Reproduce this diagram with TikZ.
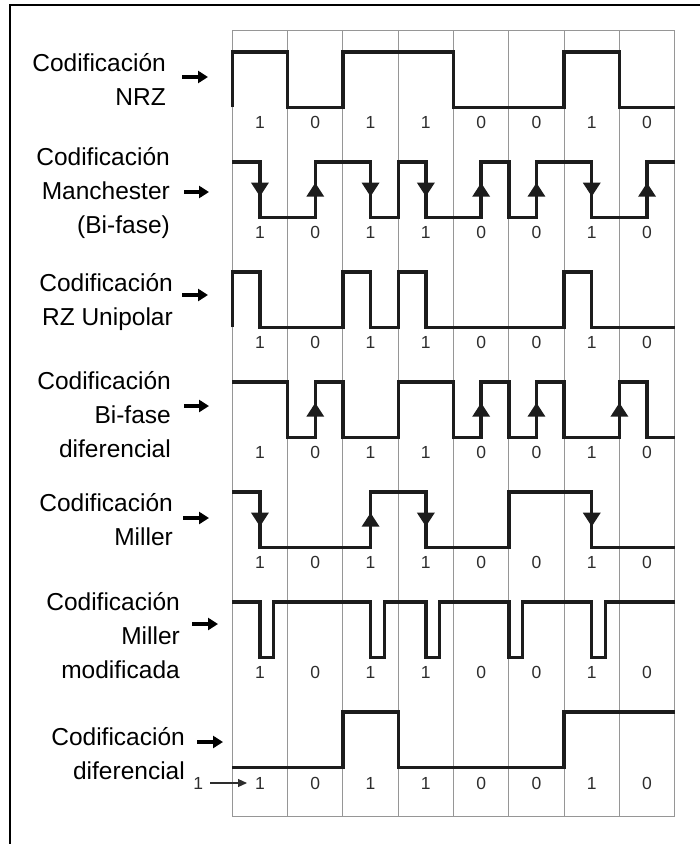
\documentclass[tikz,border=0pt]{standalone}
\usepackage{fontspec}
\setmainfont{Liberation Sans}
\usetikzlibrary{arrows.meta}
\definecolor{gridgray}{RGB}{150,150,150}
\definecolor{wavegray}{RGB}{28,28,28}
\definecolor{bitgray}{RGB}{45,45,45}

\begin{document}
\begin{tikzpicture}[x=1pt, y=-1pt,
    frame/.style={line width=2pt, black},
    cell/.style={gridgray, line width=1pt},
    wave/.style={line width=3.4pt, wavegray, line join=miter},
    fall/.style={wave, -{Triangle[width=17pt, length=14pt]}},
    rise/.style={wave, -{Triangle[width=17pt, length=14pt]}},
    bit/.style={font=\fontsize{17.5}{20}\selectfont, text=bitgray, inner sep=0pt},
    tag/.style={anchor=east, align=right, inner sep=0pt, font=\fontsize{24.5}{34}\selectfont},
    pointer/.style={-{Triangle[width=12pt, length=10pt]}, line width=4pt},
    thinptr/.style={-{Triangle[width=8pt, length=9pt]}, line width=1.2pt, bitgray}
]
  \useasboundingbox (0,0) rectangle (700,844);
  \draw[frame] (9.5,844) -- (9.5,5) -- (700,5);

  % bit cells
  \begin{scope}[shift={(232.3,0)}, x=55.3pt]
    \draw[cell] (0,30.7) rectangle (8,816.3);
    \foreach \i in {1,...,7}
      \draw[cell] (\i,30.7) -- (\i,816.3);
  \end{scope}

  % waveforms, one row every 110px
  \def\lo{55.3}
  \begin{scope}[shift={(232.3,52)}, x=55.3pt]
    % NRZ
    \draw[wave] (0,\lo) -- (0,0) -- (1,0) -- (1,\lo) -- (2,\lo) -- (2,0) -- (4,0) -- (4,\lo)
      -- (6,\lo) -- (6,0) -- (7,0) -- (7,\lo) -- (8,\lo);
    \foreach \b [count=\i from 0] in {1,0,1,1,0,0,1,0}
      \node[bit] (nrz-\i) at (\i+0.5,70.8) {\b};

    % Manchester
    \begin{scope}[yshift=-110pt]
      \draw[wave] (0,0) -- (0.5,0) -- (0.5,\lo) -- (1.5,\lo) -- (1.5,0) -- (2.5,0) -- (2.5,\lo)
        -- (3,\lo) -- (3,0) -- (3.5,0) -- (3.5,\lo) -- (4.5,\lo) -- (4.5,0) -- (5,0) -- (5,\lo)
        -- (5.5,\lo) -- (5.5,0) -- (6.5,0) -- (6.5,\lo) -- (7.5,\lo) -- (7.5,0) -- (8,0);
      \foreach \p in {0.5,2.5,3.5,6.5}
        \draw[fall] (\p,0) -- (\p,34.6);
      \foreach \p in {1.5,4.5,5.5,7.5}
        \draw[rise] (\p,\lo) -- (\p,20.7);
      \foreach \b [count=\i from 0] in {1,0,1,1,0,0,1,0}
        \node[bit] (man-\i) at (\i+0.5,70.8) {\b};
    \end{scope}

    % RZ unipolar
    \begin{scope}[yshift=-220pt]
      \draw[wave] (0,\lo) -- (0,0) -- (0.5,0) -- (0.5,\lo) -- (2,\lo) -- (2,0) -- (2.5,0) -- (2.5,\lo)
        -- (3,\lo) -- (3,0) -- (3.5,0) -- (3.5,\lo) -- (6,\lo) -- (6,0) -- (6.5,0) -- (6.5,\lo) -- (8,\lo);
      \foreach \b [count=\i from 0] in {1,0,1,1,0,0,1,0}
        \node[bit] (rz-\i) at (\i+0.5,70.8) {\b};
    \end{scope}

    % bi-fase diferencial
    \begin{scope}[yshift=-330pt]
      \draw[wave] (0,0) -- (1,0) -- (1,\lo) -- (1.5,\lo) -- (1.5,0) -- (2,0) -- (2,\lo) -- (3,\lo)
        -- (3,0) -- (4,0) -- (4,\lo) -- (4.5,\lo) -- (4.5,0) -- (5,0) -- (5,\lo) -- (5.5,\lo)
        -- (5.5,0) -- (6,0) -- (6,\lo) -- (7,\lo) -- (7,0) -- (7.5,0) -- (7.5,\lo) -- (8,\lo);
      \foreach \p in {1.5,4.5,5.5,7}
        \draw[rise] (\p,\lo) -- (\p,20.7);
      \foreach \b [count=\i from 0] in {1,0,1,1,0,0,1,0}
        \node[bit] (bfd-\i) at (\i+0.5,70.8) {\b};
    \end{scope}

    % Miller
    \begin{scope}[yshift=-440pt]
      \draw[wave] (0,0) -- (0.5,0) -- (0.5,\lo) -- (2.5,\lo) -- (2.5,0) -- (3.5,0) -- (3.5,\lo)
        -- (5,\lo) -- (5,0) -- (6.5,0) -- (6.5,\lo) -- (8,\lo);
      \foreach \p in {0.5,3.5,6.5}
        \draw[fall] (\p,0) -- (\p,34.6);
      \draw[rise] (2.5,\lo) -- (2.5,20.7);
      \foreach \b [count=\i from 0] in {1,0,1,1,0,0,1,0}
        \node[bit] (mil-\i) at (\i+0.5,70.8) {\b};
    \end{scope}

    % Miller modificada
    \begin{scope}[yshift=-550pt]
      \draw[wave] (0,0) \foreach \p in {0.5,2.5,3.5,5,6.5} {
          -- (\p,0) -- (\p,\lo) -- (\p+0.25,\lo) -- (\p+0.25,0) } -- (8,0);
      \foreach \b [count=\i from 0] in {1,0,1,1,0,0,1,0}
        \node[bit] (mmod-\i) at (\i+0.5,70.8) {\b};
    \end{scope}

    % diferencial
    \begin{scope}[yshift=-660pt]
      \draw[wave] (0,\lo) -- (2,\lo) -- (2,0) -- (3,0) -- (3,\lo) -- (6,\lo) -- (6,0) -- (8,0);
      \foreach \b [count=\i from 0] in {1,0,1,1,0,0,1,0}
        \node[bit] (dif-\i) at (\i+0.5,71.3) {\b};
    \end{scope}
  \end{scope}

  % names on the left
  \node[tag] (nrz) at (166,79) {Codificación\\NRZ};
  \node[tag] (man) at (170,193) {Codificación\\Manchester\\(Bi-fase)};
  \node[tag] (rz) at (173,302) {Codificación\\RZ Unipolar};
  \node[tag] (bfd) at (171,415) {Codificación\\Bi-fase\\diferencial};
  \node[tag] (mil) at (173,520) {Codificación\\Miller};
  \node[tag] (mmod) at (180,636) {Codificación\\Miller\\modificada};
  \node[tag] (dif) at (185,754) {Codificación\\diferencial};

  \coordinate (nrz-a) at (182,77);  \coordinate (nrz-b) at (208,77);
  \coordinate (man-a) at (184,192); \coordinate (man-b) at (209,192);
  \coordinate (rz-a) at (182,295);  \coordinate (rz-b) at (208,295);
  \coordinate (bfd-a) at (184,406); \coordinate (bfd-b) at (209,406);
  \coordinate (mil-a) at (183,518); \coordinate (mil-b) at (209,518);
  \coordinate (mmod-a) at (192,624); \coordinate (mmod-b) at (218,624);
  \coordinate (dif-a) at (197,742); \coordinate (dif-b) at (223,742);
  \foreach \r in {nrz,man,rz,bfd,mil,mmod,dif}
    \draw[pointer] (\r-a) -- (\r-b);

  % initial state of the differential code
  \node[bit] (init) at (198.3,783) {1};
  \coordinate (init-to) at (247,783);
  \draw[thinptr, shorten <=7pt] (init) -- (init-to);
\end{tikzpicture}
\end{document}
